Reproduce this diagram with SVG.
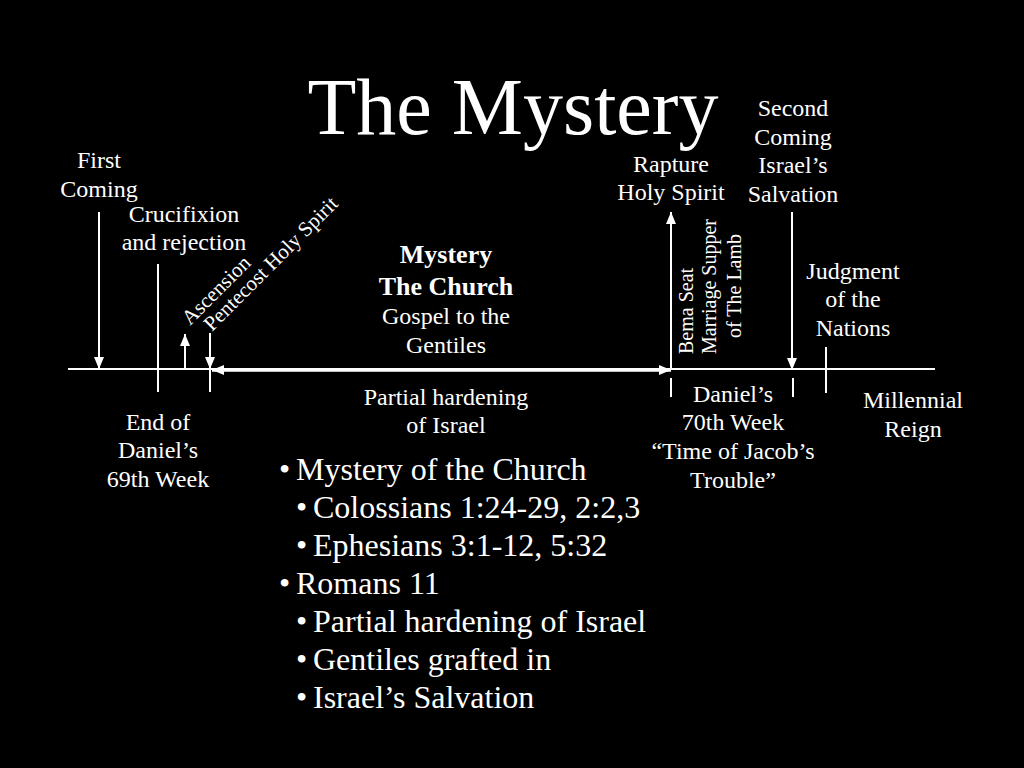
<svg xmlns="http://www.w3.org/2000/svg" width="1024" height="768" viewBox="0 0 1024 768" font-family="'Liberation Serif', 'Times New Roman', Tinos, 'DejaVu Serif', serif">
<style>
text{font-family:'Liberation Serif','Times New Roman',Tinos,'DejaVu Serif',serif;fill:#fff}
.l{font-size:24px;text-anchor:middle}
.b{font-size:26px;font-weight:bold;text-anchor:middle}
.r{font-size:20px}
.d{font-size:21px}
.t{font-size:80px;text-anchor:middle}
.bl{font-size:32px}
.ln{stroke:#fff;stroke-width:2;fill:none}
.th{stroke:#fff;stroke-width:3.5;fill:none}
</style>
<defs>
<marker id="ah" markerUnits="userSpaceOnUse" markerWidth="12" markerHeight="10" refX="12" refY="5" orient="auto-start-reverse" viewBox="0 0 12 10">
<path d="M0,0 L12,5 L0,10 z" fill="#fff"/>
</marker>
</defs>
<rect width="1024" height="768" fill="#000"/>
<text class="t" x="513" y="134">The Mystery</text>
<g id="connectors">
<line class="ln" x1="68" y1="369" x2="935" y2="369"/>
<line class="th" x1="212" y1="370" x2="671" y2="370" marker-start="url(#ah)" marker-end="url(#ah)"/>
<line class="ln" x1="99" y1="212" x2="99" y2="369" marker-end="url(#ah)"/>
<line class="ln" x1="158" y1="264" x2="158" y2="392"/>
<line class="ln" x1="185" y1="369" x2="185" y2="334" marker-end="url(#ah)"/>
<line class="ln" x1="210" y1="333" x2="210" y2="369" marker-end="url(#ah)"/>
<line class="ln" x1="210" y1="369" x2="210" y2="392"/>
<line class="ln" x1="671" y1="369" x2="671" y2="212" marker-end="url(#ah)"/>
<line class="ln" x1="671" y1="378" x2="671" y2="397"/>
<line class="ln" x1="792" y1="212" x2="792" y2="370" marker-end="url(#ah)"/>
<line class="ln" x1="793" y1="378" x2="793" y2="397"/>
<line class="ln" x1="826" y1="347" x2="826" y2="393"/>
</g>
<g id="first-coming"><text class="l" x="99" y="168">First</text><text class="l" x="99" y="197">Coming</text></g>
<g id="crucifixion"><text class="l" x="184" y="222">Crucifixion</text><text class="l" x="184" y="250">and rejection</text></g>
<g id="ascension"><text class="d" transform="translate(190,326) rotate(-45)">Ascension</text></g>
<g id="pentecost"><text class="d" transform="translate(212,332) rotate(-45)">Pentecost Holy Spirit</text></g>
<g id="mystery-church">
<text class="b" x="446" y="263">Mystery</text>
<text class="b" x="446" y="295">The Church</text>
<text class="l" x="446" y="324">Gospel to the</text>
<text class="l" x="446" y="353">Gentiles</text>
</g>
<g id="partial-hardening"><text class="l" x="446" y="405">Partial hardening</text><text class="l" x="446" y="433">of Israel</text></g>
<g id="end-69"><text class="l" x="158" y="430">End of</text><text class="l" x="158" y="458">Daniel’s</text><text class="l" x="158" y="487">69th Week</text></g>
<g id="rapture"><text class="l" x="671" y="172">Rapture</text><text class="l" x="671" y="200">Holy Spirit</text></g>
<g id="bema">
<text class="r" transform="translate(693,354) rotate(-90)">Bema Seat</text>
<text class="r" transform="translate(716,354) rotate(-90)">Marriage Supper</text>
<text class="r" text-anchor="middle" transform="translate(741,286) rotate(-90)">of The Lamb</text>
</g>
<g id="second-coming"><text class="l" x="793" y="116">Second</text><text class="l" x="793" y="145">Coming</text><text class="l" x="793" y="173">Israel’s</text><text class="l" x="793" y="202">Salvation</text></g>
<g id="judgment"><text class="l" x="853" y="279">Judgment</text><text class="l" x="853" y="307">of the</text><text class="l" x="853" y="336">Nations</text></g>
<g id="week-70"><text class="l" x="733" y="402">Daniel’s</text><text class="l" x="733" y="430">70th Week</text><text class="l" x="733" y="459">“Time of Jacob’s</text><text class="l" x="733" y="488">Trouble”</text></g>
<g id="millennial"><text class="l" x="913" y="408">Millennial</text><text class="l" x="913" y="437">Reign</text></g>
<g id="bullets">
<text class="bl" x="279" y="480">•</text><text class="bl" x="296" y="480">Mystery of the Church</text>
<text class="bl" x="296" y="518">•</text><text class="bl" x="313" y="518">Colossians 1:24-29, 2:2,3</text>
<text class="bl" x="296" y="556">•</text><text class="bl" x="313" y="556">Ephesians 3:1-12, 5:32</text>
<text class="bl" x="279" y="594">•</text><text class="bl" x="296" y="594">Romans 11</text>
<text class="bl" x="296" y="632">•</text><text class="bl" x="313" y="632">Partial hardening of Israel</text>
<text class="bl" x="296" y="670">•</text><text class="bl" x="313" y="670">Gentiles grafted in</text>
<text class="bl" x="296" y="708">•</text><text class="bl" x="313" y="708">Israel’s Salvation</text>
</g>
</svg>
